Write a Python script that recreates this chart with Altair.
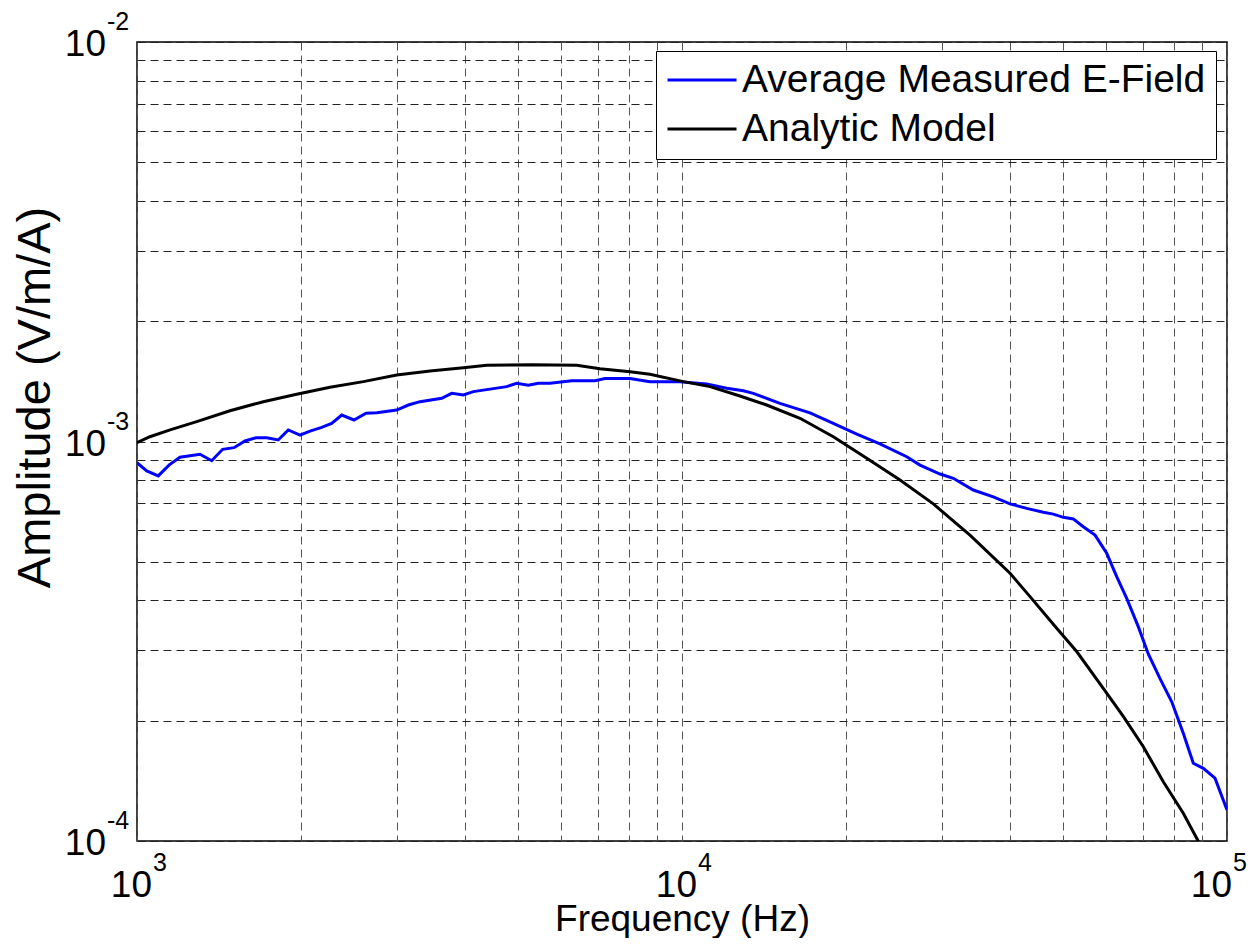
import altair as alt
import pandas as pd

# ---- data ----
meas_freq = [1000, 1042, 1094, 1146, 1199, 1305, 1371, 1436, 1507, 1578, 1653, 1730, 1816,
             1895, 1991, 2077, 2182, 2276, 2375, 2501, 2632, 2754, 2996, 3147, 3306, 3623,
             3780, 3971, 4141, 4767, 4974, 5224, 5450, 5725, 6276, 6925, 7223, 8029, 8734,
             9915, 11098, 12078, 12959, 13517, 15125, 17174, 18952, 20927, 23079, 25843,
             27338, 29747, 31465, 34234, 37252, 39982, 42912, 46026, 48009, 50072, 52240,
             54490, 57265, 60157, 62750, 65464, 68738, 71712, 75355, 79178, 83138, 86737,
             90475, 95060, 100000]
meas_amp = [8.85e-4, 8.44e-4, 8.20e-4, 8.74e-4, 9.13e-4, 9.29e-4, 8.95e-4, 9.56e-4, 9.65e-4,
            1.003e-3, 1.022e-3, 1.022e-3, 1.009e-3, 1.069e-3, 1.038e-3, 1.062e-3, 1.085e-3,
            1.110e-3, 1.165e-3, 1.132e-3, 1.177e-3, 1.180e-3, 1.199e-3, 1.234e-3, 1.258e-3,
            1.283e-3, 1.320e-3, 1.308e-3, 1.333e-3, 1.372e-3, 1.399e-3, 1.383e-3, 1.399e-3,
            1.399e-3, 1.420e-3, 1.420e-3, 1.437e-3, 1.437e-3, 1.412e-3, 1.412e-3, 1.393e-3,
            1.359e-3, 1.340e-3, 1.320e-3, 1.246e-3, 1.180e-3, 1.110e-3, 1.044e-3, 9.86e-4,
            9.16e-4, 8.73e-4, 8.29e-4, 8.09e-4, 7.56e-4, 7.27e-4, 6.98e-4, 6.80e-4, 6.65e-4,
            6.58e-4, 6.46e-4, 6.40e-4, 6.12e-4, 5.83e-4, 5.25e-4, 4.59e-4, 4.05e-4, 3.44e-4,
            2.94e-4, 2.55e-4, 2.23e-4, 1.86e-4, 1.565e-4, 1.52e-4, 1.436e-4, 1.196e-4]

model_freq = [1000, 1056, 1150, 1287, 1481, 1705, 1963, 2260, 2602, 2996, 3449, 3971, 4383,
              5300, 6410, 7071, 8029, 8734, 10055, 11257, 12777, 14303, 16463, 18952, 21826,
              25119, 28918, 31023, 33757, 39982, 43510, 48699, 52993, 59293, 64521, 70229,
              76405, 83138, 87985, 90000]
model_amp = [9.93e-4, 1.028e-3, 1.069e-3, 1.121e-3, 1.194e-3, 1.258e-3, 1.313e-3, 1.367e-3,
             1.412e-3, 1.467e-3, 1.502e-3, 1.530e-3, 1.551e-3, 1.556e-3, 1.551e-3, 1.520e-3,
             1.495e-3, 1.473e-3, 1.412e-3, 1.372e-3, 1.300e-3, 1.234e-3, 1.143e-3, 1.028e-3,
             9.08e-4, 8.01e-4, 6.98e-4, 6.43e-4, 5.83e-4, 4.68e-4, 4.09e-4, 3.41e-4, 2.98e-4,
             2.41e-4, 2.05e-4, 1.722e-4, 1.407e-4, 1.173e-4, 1.016e-4, 9.6e-5]

series_names = ["Average Measured E-Field", "Analytic Model"]
series_colors = ["#0000ff", "#000000"]

x_tick_values = [1000, 10000, 100000]
x_tick_exp = ["3", "4", "5"]
y_tick_values = [1e-4, 1e-3, 1e-2]
y_tick_exp = ["-4", "-3", "-2"]

x_grid = [m * 10 ** e for e in (3, 4) for m in range(1, 10)] + [100000]
y_grid = [m * 10.0 ** e for e in (-4, -3) for m in range(1, 10)] + [1e-2]

df = pd.concat([
    pd.DataFrame({"Frequency": meas_freq, "Amplitude": meas_amp, "series": series_names[0]}),
    pd.DataFrame({"Frequency": model_freq, "Amplitude": model_amp, "series": series_names[1]}),
])

FONT = "Liberation Sans"

x_scale = alt.Scale(type="log", domain=[1000, 100000], nice=False)
y_scale = alt.Scale(type="log", domain=[1e-4, 1e-2], nice=False)

x_axis = alt.Axis(values=x_grid, labels=False, ticks=False, domain=False, grid=True,
                  gridDash=[8, 5], gridColor="#555555", gridWidth=1,
                  title="Frequency (Hz)", titleFont=FONT, titleFontSize=37,
                  titleFontWeight="normal", titleColor="black",
                  titleBaseline="alphabetic", titleY=89)
y_axis = alt.Axis(values=y_grid, labels=False, ticks=False, domain=False, grid=True,
                  gridDash=[8, 5], gridColor="#222222", gridWidth=1,
                  title="Amplitude (V/m/A)", titleFont=FONT, titleFontSize=47,
                  titleFontWeight="normal", titleColor="black",
                  titleBaseline="alphabetic", titleX=-88, titleY=355)

lines = alt.Chart(df).mark_line(strokeWidth=3, clip=True).encode(
    x=alt.X("Frequency:Q", scale=x_scale, axis=x_axis),
    y=alt.Y("Amplitude:Q", scale=y_scale, axis=y_axis),
    color=alt.Color(
        "series:N",
        scale=alt.Scale(domain=series_names, range=series_colors),
        legend=alt.Legend(
            title=None, orient="none", legendX=519, legendY=9, direction="vertical",
            fillColor="white", strokeColor="black", padding=10,
            labelFont=FONT, labelFontSize=39, labelColor="black", labelLimit=800,
            labelOffset=4, symbolType="stroke", symbolSize=4761,
            symbolStrokeWidth=3, clipHeight=38, rowPadding=10,
        ),
    ),
)

xdf = pd.DataFrame({"Frequency": x_tick_values[:2], "exp": x_tick_exp[:2]})
xdf_last = pd.DataFrame({"Frequency": x_tick_values[2:], "exp": x_tick_exp[2:]})
ydf = pd.DataFrame({"Amplitude": y_tick_values, "exp": y_tick_exp})


def x_label_layers(data, dx_base, dx_exp):
    base = alt.Chart(data).mark_text(text="10", font=FONT, fontSize=37, color="black",
                                     align="right", baseline="alphabetic", dx=dx_base).encode(
        x=alt.X("Frequency:Q", scale=x_scale, axis=x_axis), y=alt.value(855))
    exp = alt.Chart(data).mark_text(font=FONT, fontSize=25, color="black",
                                    align="left", baseline="alphabetic", dx=dx_exp).encode(
        x=alt.X("Frequency:Q", scale=x_scale, axis=x_axis), y=alt.value(829), text="exp:N")
    return [base, exp]


y_base = alt.Chart(ydf).mark_text(text="10", font=FONT, fontSize=37, color="black",
                                  align="right", baseline="alphabetic", dy=14).encode(
    y=alt.Y("Amplitude:Q", scale=y_scale, axis=y_axis), x=alt.value(-31))
y_exp = alt.Chart(ydf).mark_text(font=FONT, fontSize=25, color="black",
                                 align="left", baseline="alphabetic", dy=-12).encode(
    y=alt.Y("Amplitude:Q", scale=y_scale, axis=y_axis), x=alt.value(-30), text="exp:N")

chart = alt.layer(
    lines, *x_label_layers(xdf, 15, 16), *x_label_layers(xdf_last, 5, 6), y_base, y_exp
).properties(
    width=1090, height=799,
    autosize=alt.AutoSizeParams(type="none"),
    padding={"left": 129, "top": 34, "right": 20, "bottom": 97},
    background="white",
).configure_view(stroke="black", strokeWidth=1.5)

chart.save("out.html", embed_options={"renderer": "svg", "actions": False})
